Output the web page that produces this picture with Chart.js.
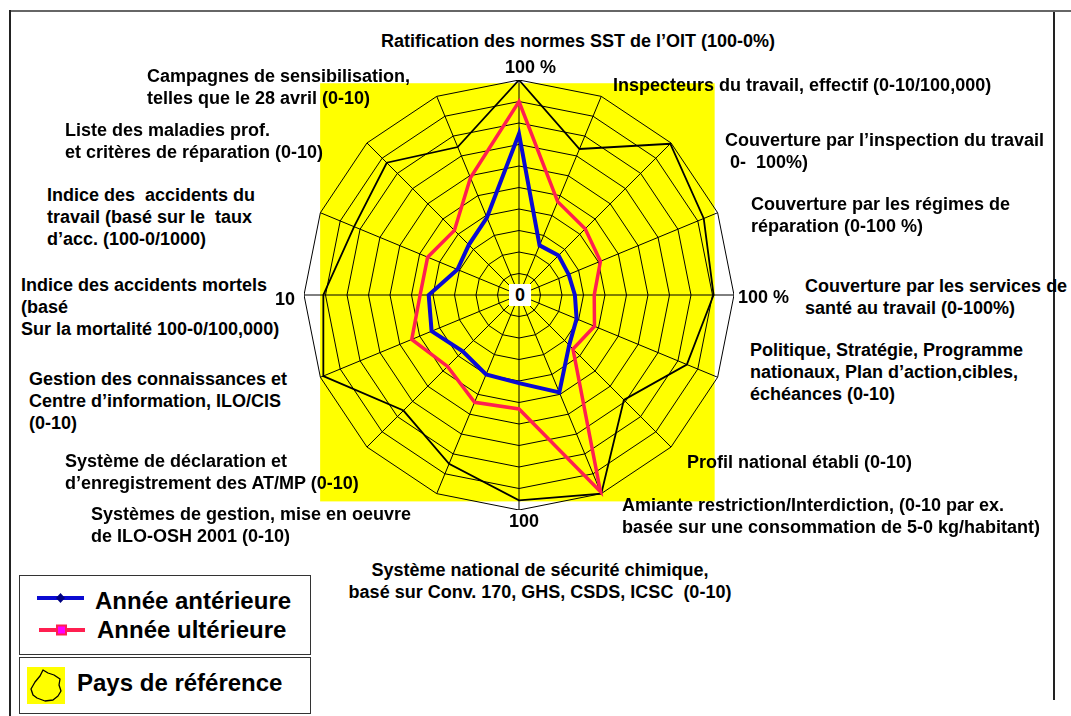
<!DOCTYPE html>
<html>
<head>
<meta charset="utf-8">
<script src="https://cdn.jsdelivr.net/npm/chart.js@4/dist/chart.umd.min.js"></script>
<style>
  body { margin: 0; width: 1071px; height: 716px; position: relative; overflow: hidden; background: #fff;
         font-family: "Liberation Sans", Arial, sans-serif; }
  .line { position: absolute; }
  .lab { position: absolute; font-weight: bold; font-size: 18px; line-height: 22px; white-space: pre; color: #000; }
  .ax { position: absolute; font-weight: bold; font-size: 18px; line-height: 20px; color: #000; }
  #wrap { position: absolute; left: 304px; top: 80px; width: 430px; height: 430px; }
  .legbox { position: absolute; border: 1.5px solid #333; background: #fff; }
  .legtxt { position: absolute; font-weight: bold; font-size: 24px; line-height: 26px; white-space: pre; }
</style>
</head>
<body>
<div class="line" style="left:9px;top:10px;width:1062px;height:2px;background:#666"></div>
<div class="line" style="left:9px;top:10px;width:2px;height:706px;background:#222"></div>
<div class="line" style="left:1053px;top:12px;width:2px;height:688px;background:#222"></div>

<div id="wrap"><canvas id="radar" width="430" height="430"></canvas></div>
<div id="labels"></div>

<div class="ax" style="left:505px;top:57px">100 %</div>
<div class="ax" style="left:509px;top:284px;width:22px;height:22px;background:#fff;text-align:center;line-height:22px">0</div>
<div class="ax" style="left:275px;top:289px">10</div>
<div class="ax" style="left:738px;top:287px">100 %</div>
<div class="ax" style="left:509px;top:511px">100</div>

<div class="legbox" style="left:19px;top:575px;width:290px;height:78px"></div>
<svg style="position:absolute;left:36px;top:591px" width="50" height="14">
  <line x1="1" y1="7" x2="48" y2="7" stroke="#0A0AD2" stroke-width="4"/>
  <polygon points="24.5,2 29,7 24.5,12 20,7" fill="#000080"/>
</svg>
<div class="legtxt" style="left:95px;top:588px">Année antérieure</div>
<svg style="position:absolute;left:38px;top:623px" width="50" height="14">
  <line x1="1" y1="7" x2="47" y2="7" stroke="#FF1F50" stroke-width="4"/>
  <rect x="19" y="2.5" width="9" height="9" fill="#FF00FF" stroke="#FF1F50" stroke-width="2"/>
</svg>
<div class="legtxt" style="left:97px;top:617px">Année ultérieure</div>

<div class="legbox" style="left:19px;top:657px;width:290px;height:55px"></div>
<svg style="position:absolute;left:27px;top:667px" width="38" height="37">
  <rect x="0" y="0" width="38" height="37" fill="#FFFF00"/>
  <path d="M4,22 L8,15 L13,9 L16,3 L21,6 L27,8 L33,12 L32,18 L34,24 L31,29 L26,33 L18,34 L10,31 L6,28 Z"
        fill="#FFFF00" stroke="#000" stroke-width="1.3" stroke-linejoin="round"/>
</svg>
<div class="legtxt" style="left:77px;top:670px">Pays de référence</div>

<script>
// axes, clockwise from top
const categories = [
  "Ratification des normes SST de l’OIT (100-0%)",
  "Inspecteurs du travail, effectif (0-10/100,000)",
  "Couverture par l’inspection du travail\n 0-  100%)",
  "Couverture par les régimes de\nréparation (0-100 %)",
  "Couverture par les services de\nsanté au travail (0-100%)",
  "Politique, Stratégie, Programme\nnationaux, Plan d’action,cibles,\néchéances (0-10)",
  "Profil national établi (0-10)",
  "Amiante restriction/Interdiction, (0-10 par ex.\nbasée sur une consommation de 5-0 kg/habitant)",
  "Système national de sécurité chimique,\nbasé sur Conv. 170, GHS, CSDS, ICSC  (0-10)",
  "Systèmes de gestion, mise en oeuvre\nde ILO-OSH 2001 (0-10)",
  "Système de déclaration et\nd’enregistrement des AT/MP (0-10)",
  "Gestion des connaissances et\nCentre d’information, ILO/CIS\n(0-10)",
  "Indice des accidents mortels\n(basé\nSur la mortalité 100-0/100,000)",
  "Indice des  accidents du\ntravail (basé sur le  taux\nd’acc. (100-0/1000)",
  "Liste des maladies prof.\net critères de réparation (0-10)",
  "Campagnes de sensibilisation,\ntelles que le 28 avril (0-10)"
];

const anterieure = [7.5, 2.5, 2.6, 2.5, 2.6, 2.9, 3.3, 4.9, 4.1, 4.0, 3.7, 4.4, 4.2, 3.1, 3.3, 3.9];
const ulterieure = [9.0, 4.7, 4.35, 4.1, 3.5, 3.8, 3.55, 9.9, 5.3, 5.4, 4.7, 5.4, 4.6, 4.6, 4.25, 5.9];
const reference  = [10, 7.35, 9.95, 9.3, 9.05, 8.45, 6.9, 10, 9.55, 8.5, 7.6, 9.85, 9.1, 8.3, 8.7, 7.45];

const scaleMin = 0;
const scaleMax = 10;

// where each axis title sits on the page [left, top, align, width]
const labelPos = [
  [330, 30, "center", 496], [613, 74], [725, 129], [751, 193], [805, 275], [750, 339], [687, 451], [622, 494],
  [300, 559, "center", 480], [91, 503], [65, 450], [29, 368], [21, 274], [47, 184], [65, 119], [147, 65]
];

const labBox = document.getElementById("labels");
categories.forEach((txt, i) => {
  const d = document.createElement("div");
  d.className = "lab";
  d.textContent = txt;
  const p = labelPos[i];
  d.style.left = p[0] + "px";
  d.style.top = p[1] + "px";
  if (p[2]) { d.style.textAlign = p[2]; d.style.width = p[3] + "px"; }
  labBox.appendChild(d);
});

// yellow block behind the web
const yellowBack = {
  id: "yellowBack",
  beforeDraw(chart) {
    const r = chart.scales.r;
    const ctx = chart.ctx;
    ctx.save();
    ctx.fillStyle = "#FFFF00";
    const R = r.drawingArea;
    ctx.fillRect(r.xCenter - 0.925 * R, r.yCenter - 0.985 * R, 1.835 * R, 1.945 * R);
    ctx.restore();
  }
};

new Chart(document.getElementById("radar"), {
  type: "radar",
  data: {
    labels: categories,
    datasets: [
      { label: "Année ultérieure", data: ulterieure, borderColor: "#FF1F50", borderWidth: 3.5, fill: false, pointRadius: 0, order: 0 },
      { label: "Année antérieure", data: anterieure, borderColor: "#0A0AD2", borderWidth: 4, fill: false, pointRadius: 0, order: 1 },
      { label: "Pays de référence", data: reference, borderColor: "#000", borderWidth: 1.8, fill: false, pointRadius: 0, order: 2 }
    ]
  },
  options: {
    responsive: false,
    animation: false,
    devicePixelRatio: 1,
    layout: { padding: 0 },
    elements: { line: { tension: 0, borderJoinStyle: "miter" } },
    datasets: { radar: { clip: false } },
    plugins: { legend: { display: false }, tooltip: { enabled: false } },
    scales: {
      r: {
        min: scaleMin,
        max: scaleMax,
        ticks: { stepSize: 1, display: false },
        pointLabels: { display: false },
        grid: { color: "#000", lineWidth: 1, circular: false },
        angleLines: { color: "#000", lineWidth: 1 }
      }
    }
  },
  plugins: [yellowBack]
});
</script>
</body>
</html>
